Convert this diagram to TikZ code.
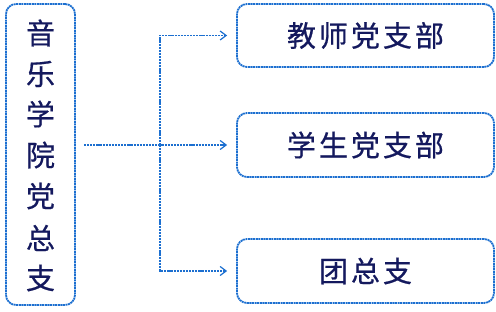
\documentclass[tikz,border=0pt]{standalone}
\usepackage{fontspec}
\newfontfamily\cjk[FakeBold=0.6]{Noto Sans CJK SC}
\usetikzlibrary{arrows.meta}
\definecolor{lineblue}{HTML}{1C6FD0}
\definecolor{txtnavy}{HTML}{14195E}
\tikzset{
  box/.style={draw=lineblue, line width=1.8pt, dash pattern=on 2pt off 0.6pt, rounded corners=10pt, fill=white, text=txtnavy, inner sep=0pt},
  conn/.style={draw=lineblue, line width=1.6pt, dash pattern=on 2.2pt off 0.9pt, -{Straight Barb[length=6pt,width=9pt,line width=1.2pt]}, shorten >=9pt},
  lbl/.style={font=\cjk\fontsize{29}{29}\selectfont},
}
\begin{document}
\begin{tikzpicture}[x=1pt,y=-1pt]
\useasboundingbox (0,0) rectangle (496,312);
\node[box, minimum width=69pt, minimum height=301pt] (L) at (40.5,154.5) {};
\foreach \c/\y [count=\i] in {音/33,乐/74,学/114,院/155,党/196,总/238,支/278}
  \node[lbl, text=txtnavy, inner sep=0pt] (L\i) at (40.5,\y) {\c};
\node[box, lbl, minimum width=257pt, minimum height=63pt] (A) at (365.5,35.5) {教\hspace{3pt}师\hspace{3pt}党\hspace{3pt}支\hspace{3pt}部};
\node[box, lbl, minimum width=257pt, minimum height=64pt] (B) at (365.5,145) {学\hspace{3pt}生\hspace{3pt}党\hspace{3pt}支\hspace{3pt}部};
\node[box, lbl, minimum width=257pt, minimum height=64pt] (C) at (365.5,271) {团\hspace{3pt}总\hspace{3pt}支};
\coordinate (J) at (160,145);
\draw[conn, shorten <=8pt] (L.east |- B.west) -- (B.west);
\draw[conn] (J) |- (A.west);
\draw[conn] (J) |- (C.west);
\end{tikzpicture}
\end{document}
